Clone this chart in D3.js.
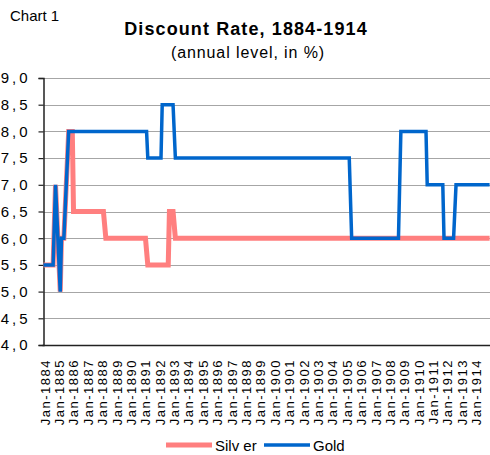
<!DOCTYPE html>
<html>
<head>
<meta charset="utf-8">
<script src="https://cdn.jsdelivr.net/npm/d3@7"></script>
<style>
  body { margin: 0; background: #fff; }
  text { font-family: "Liberation Sans", Arial, sans-serif; fill: #000; }
</style>
</head>
<body>
<div id="chart"></div>
<script>
// data: rate change points (month, value)
const silverDates = ["1884-01", "1884-09", "1884-11", "1885-03", "1885-04", "1885-06", "1885-10",
  "1886-01", "1886-02", "1888-03", "1888-05", "1891-02", "1891-04", "1892-09", "1892-10",
  "1893-01", "1893-03", "1915-01"];
const silverRates = [5.5, 5.5, 7.0, 5.0, 6.0, 6.0, 8.0,
  8.0, 6.5, 6.5, 6.0, 6.0, 5.5, 5.5, 6.5,
  6.5, 6.0, 6.0];

const goldDates = ["1884-01", "1884-09", "1884-11", "1885-03", "1885-04", "1885-06", "1885-10",
  "1891-03", "1891-04", "1892-03", "1892-04", "1893-01", "1893-03", "1905-04", "1905-06",
  "1908-09", "1908-11", "1910-08", "1910-09", "1911-10", "1911-11", "1912-07", "1912-09", "1915-01"];
const goldRates = [5.5, 5.5, 7.0, 5.0, 6.0, 6.0, 8.0,
  8.0, 7.5, 7.5, 8.5, 8.5, 7.5, 7.5, 6.0,
  6.0, 8.0, 8.0, 7.0, 7.0, 6.0, 6.0, 7.0, 7.0];

const yTicks = [4.0, 4.5, 5.0, 5.5, 6.0, 6.5, 7.0, 7.5, 8.0, 8.5, 9.0];
const xTickYears = d3.range(1884, 1915);

const parseMonth = d3.timeParse("%Y-%m");
const silver = silverDates.map((d, i) => ({ date: parseMonth(d), value: silverRates[i] }));
const gold = goldDates.map((d, i) => ({ date: parseMonth(d), value: goldRates[i] }));

// dimensions
const width = 490, height = 455;
const plotLeft = 43.5, plotRight = 489.6, plotTop = 78, plotBottom = 345;

const svg = d3.select("#chart")
  .append("svg")
  .attr("width", width)
  .attr("height", height);

// scales
const x = d3.scaleTime()
  .domain([new Date(1884, 0, 1), new Date(1915, 0, 1)])
  .range([plotLeft, plotRight]);

const y = d3.scaleLinear()
  .domain([4, 9])
  .range([plotBottom, plotTop]);

// titles
svg.append("text")
  .attr("x", 10)
  .attr("y", 21)
  .style("font-size", "15px")
  .text("Chart 1");

svg.append("text")
  .attr("x", 246)
  .attr("y", 35)
  .attr("text-anchor", "middle")
  .style("font-size", "18px")
  .style("font-weight", "bold")
  .style("letter-spacing", "1.1px")
  .text("Discount Rate, 1884-1914");

svg.append("text")
  .attr("x", 248)
  .attr("y", 58)
  .attr("text-anchor", "middle")
  .style("font-size", "16px")
  .style("letter-spacing", "0.9px")
  .text("(annual level, in %)");

// gridlines
svg.append("g")
  .selectAll("line")
  .data(yTicks.filter(d => d > 4))
  .join("line")
  .attr("x1", plotLeft)
  .attr("x2", width)
  .attr("y1", d => Math.round(y(d)) + 0.5)
  .attr("y2", d => Math.round(y(d)) + 0.5)
  .attr("stroke", "#a6a6a6")
  .attr("stroke-width", 1);

// Y axis
const yAxis = svg.append("g")
  .attr("transform", `translate(${Math.round(plotLeft) - 0.5},0)`)
  .call(d3.axisLeft(y)
    .tickValues(yTicks)
    .tickSize(5)
    .tickPadding(8)
    .tickFormat(d => d.toFixed(1).replace(".", ",")));
yAxis.select(".domain").attr("stroke", "#222").attr("stroke-width", 1.5);
yAxis.selectAll(".tick line").attr("stroke", "#222").attr("stroke-width", 1.2);
yAxis.selectAll(".tick text")
  .style("font-size", "15px")
  .style("letter-spacing", "3px")
  .style("font-family", "Liberation Sans, Arial, sans-serif");

// X axis
const xAxis = svg.append("g")
  .attr("transform", `translate(0,${plotBottom})`)
  .call(d3.axisBottom(x)
    .tickValues(xTickYears.map(yr => new Date(yr, 0, 1)))
    .tickSize(0)
    .tickSizeOuter(0)
    .tickFormat(d3.timeFormat("%b-%Y")));
xAxis.select(".domain")
  .attr("d", `M${plotLeft - 1},0.5H${width}`)
  .attr("stroke", "#222")
  .attr("stroke-width", 1.5);
xAxis.selectAll(".tick text")
  .attr("transform", "rotate(-90)")
  .attr("text-anchor", "end")
  .attr("x", -14)
  .attr("y", 1)
  .attr("dy", "0.35em")
  .style("font-size", "13px")
  .style("letter-spacing", "1.5px")
  .style("font-family", "Liberation Sans, Arial, sans-serif");

// lines
const line = d3.line()
  .x(d => x(d.date))
  .y(d => y(d.value));

svg.append("path")
  .datum(silver)
  .attr("fill", "none")
  .attr("stroke", "#ff7f7f")
  .attr("stroke-width", 5)
  .attr("d", line);

svg.append("path")
  .datum(gold)
  .attr("fill", "none")
  .attr("stroke", "#0066cc")
  .attr("stroke-width", 3.5)
  .attr("d", line);

// legend
const legend = [
  { name: "Silv er", color: "#ff7f7f", w: 5, x: 166 },
  { name: "Gold", color: "#0066cc", w: 3.5, x: 264 }
];
const lg = svg.append("g");
lg.selectAll("line")
  .data(legend)
  .join("line")
  .attr("x1", d => d.x)
  .attr("x2", d => d.x + 46)
  .attr("y1", 445)
  .attr("y2", 445)
  .attr("stroke", d => d.color)
  .attr("stroke-width", d => d.w);
lg.selectAll("text")
  .data(legend)
  .join("text")
  .attr("x", d => d.x + 49)
  .attr("y", 450.5)
  .style("font-size", "15px")
  .text(d => d.name);
</script>
</body>
</html>
